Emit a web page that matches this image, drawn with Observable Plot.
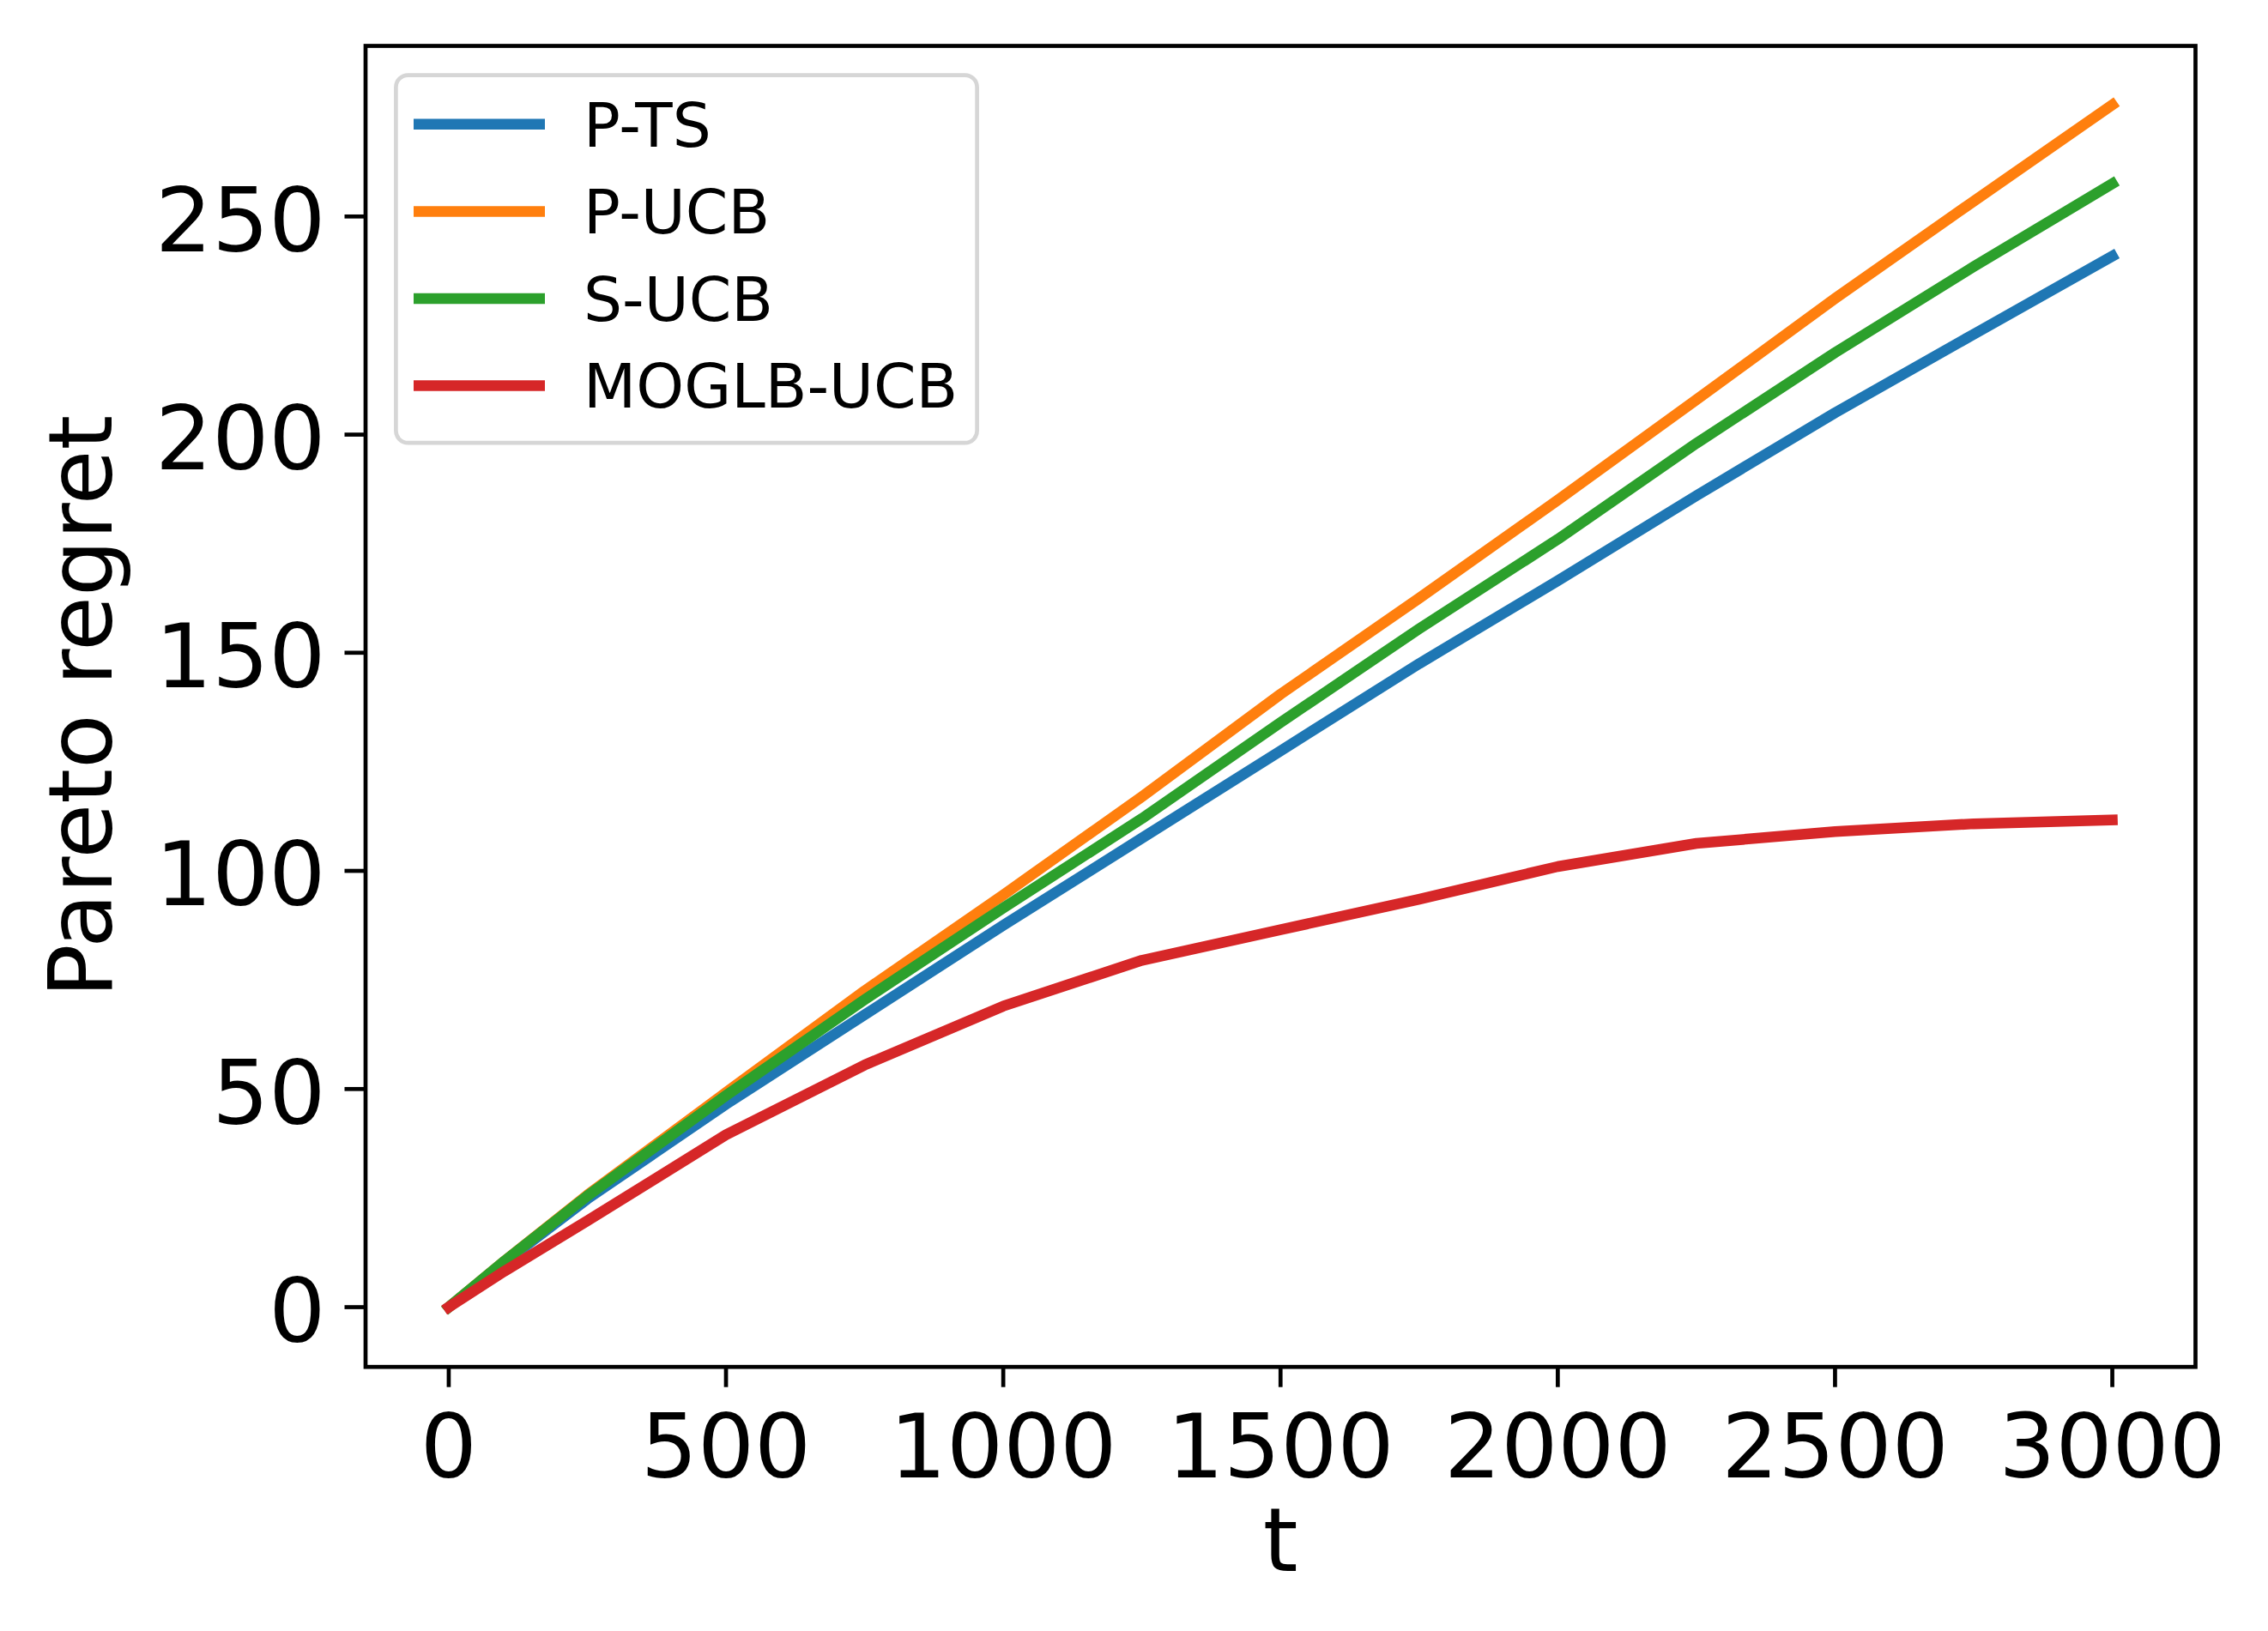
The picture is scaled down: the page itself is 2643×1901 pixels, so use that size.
<!DOCTYPE html>
<html>
<head>
<meta charset="utf-8">
<script src="https://cdn.jsdelivr.net/npm/d3@7"></script>
<script src="https://cdn.jsdelivr.net/npm/@observablehq/plot@0.6"></script>
<style>
  html, body { margin: 0; padding: 0; background: white; }
  #wrap { position: relative; width: 2643px; height: 1901px; }
  #wrap svg { display: block; }
</style>
</head>
<body>
<div id="wrap"></div>
<script>
// ---- data ----
const series = ["P-TS", "P-UCB", "S-UCB", "MOGLB-UCB"];
const colors = ["#1f77b4", "#ff7f0e", "#2ca02c", "#d62728"];
const t     = [0, 100, 250, 500, 750, 1000, 1250, 1500, 1750, 2000, 2250, 2500, 2750, 3000];
const pTS   = [0, 10.3, 24.8, 46.5, 67, 87.5, 107.5, 127.5, 147.5, 166.5, 186, 205, 223, 240.9];
const pUCB  = [0, 10.5, 25.7, 49.2, 72.5, 94.5, 117, 140.5, 162.5, 185, 208, 231.2, 253.5, 275.6];
const sUCB  = [0, 10.5, 25.5, 48.5, 70.5, 91.5, 112, 134, 155.5, 176, 198, 218.8, 238.5, 257.5];
const moglb = [0, 8.2, 19.8, 39.5, 55.5, 69, 79.5, 86.5, 93.5, 101, 106.3, 109, 110.8, 111.7];
const xTicks = [0, 500, 1000, 1500, 2000, 2500, 3000];
const yTicks = [0, 50, 100, 150, 200, 250];
const xLabel = "t";
const yLabel = "Pareto regret";

const values = [pTS, pUCB, sUCB, moglb];
const rows = [];
series.forEach((s, i) => t.forEach((tt, j) => rows.push({series: s, t: tt, v: values[i][j]})));

const FONT = "DejaVu Sans";
const FS = 104;
const SW = 4.7;

const plot = Plot.plot({
  width: 2643,
  height: 1901,
  marginLeft: 425.5,
  marginRight: 85,
  marginTop: 53,
  marginBottom: 308.3,
  style: {fontFamily: FONT, background: "white", maxWidth: "none", color: "black"},
  x: {domain: [-150, 3150]},
  y: {domain: [-13.7, 289.1]},
  color: {domain: series, range: colors},
  marks: [
    Plot.lineY(rows, {x: "t", y: "v", z: "series", stroke: "series", strokeWidth: 12.5,
      strokeLinecap: "square", strokeLinejoin: "round"}),
    Plot.frame({stroke: "black", strokeWidth: SW}),
    Plot.axisX(xTicks, {tickSize: 24, tickPadding: 31.3, fontSize: FS, strokeWidth: SW,
      stroke: "black", fill: "black", label: null, tickFormat: d => String(d)}),
    Plot.axisY(yTicks, {tickSize: 24, strokeWidth: SW, stroke: "black",
      tickFormat: () => "", label: null}),
    Plot.axisY(yTicks, {tickSize: 0, tickPadding: 46.5, dy: 7, fontSize: FS, fill: "black",
      label: null, tickFormat: d => String(d)}),
    Plot.text([xLabel], {frameAnchor: "bottom", lineAnchor: "top", textAnchor: "middle", dy: 163.5,
      fontSize: FS, fill: "black", fontFamily: FONT}),
    Plot.text([yLabel], {frameAnchor: "left", rotate: -90, lineAnchor: "top", textAnchor: "middle",
      dx: -370.3, fontSize: FS, fill: "black", fontFamily: FONT})
  ]
});

const wrap = document.getElementById("wrap");
wrap.appendChild(plot);

// ---- legend overlay ----
const color = plot.scale("color");
const leg = d3.select(wrap).append("svg")
  .attr("width", 2643).attr("height", 1901)
  .style("position", "absolute").style("left", "0px").style("top", "0px")
  .style("pointer-events", "none");

leg.append("rect")
  .attr("x", 461.4).attr("y", 87.6).attr("width", 677.2).attr("height", 428.6)
  .attr("rx", 14).attr("ry", 14)
  .attr("fill", "white").attr("fill-opacity", 0.8)
  .attr("stroke", "#d6d6d6").attr("stroke-width", SW);

series.forEach((s, i) => {
  const cy = 144.8 + i * 101.6;
  leg.append("line")
    .attr("x1", 482).attr("x2", 635).attr("y1", cy).attr("y2", cy)
    .attr("stroke", color.apply(s)).attr("stroke-width", 12.5);
  leg.append("text")
    .attr("x", 680).attr("y", cy + 25.7)
    .attr("font-family", FONT).attr("font-size", 71).attr("fill", "black")
    .text(s);
});
</script>
</body>
</html>
